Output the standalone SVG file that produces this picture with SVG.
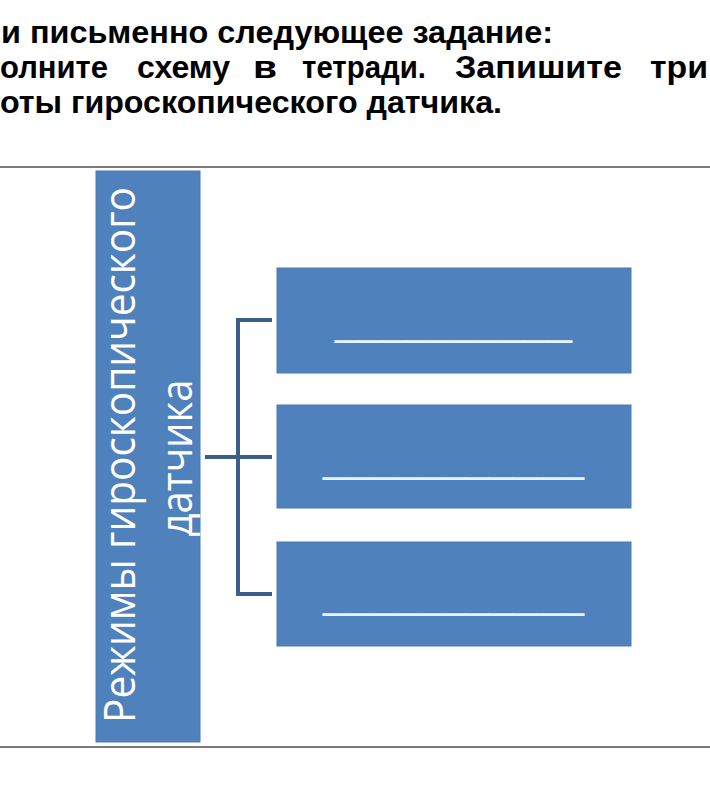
<svg xmlns="http://www.w3.org/2000/svg" width="710" height="801" viewBox="0 0 710 801">
<style>
.hdr{font-family:"Liberation Sans",Arial,sans-serif;font-weight:bold;font-size:32px;fill:#000}
.box{fill:#4F81BD;stroke:#4A7AB3;stroke-width:1}
.vt{font-family:"Open Sans","Noto Sans",sans-serif;font-size:44px;fill:#fff}
.blank{font-family:"Liberation Sans",Arial,sans-serif;font-size:44px;fill:#E6F3FA}
.con{stroke:#3B5F8A;stroke-width:4;fill:none}
.rule{stroke:#7a7a7a;stroke-width:2}
</style>
<rect width="710" height="801" fill="#fff"/>
<g id="header">
<text class="hdr" x="1" y="43" textLength="552" lengthAdjust="spacingAndGlyphs">и письменно следующее задание:</text>
<text class="hdr" y="78"><tspan x="0" textLength="108" lengthAdjust="spacingAndGlyphs">олните</tspan><tspan x="137" textLength="93" lengthAdjust="spacingAndGlyphs">схему</tspan><tspan x="253" textLength="24" lengthAdjust="spacingAndGlyphs">в</tspan><tspan x="302" textLength="124" lengthAdjust="spacingAndGlyphs">тетради.</tspan><tspan x="455" textLength="167" lengthAdjust="spacingAndGlyphs">Запишите</tspan><tspan x="650" textLength="58" lengthAdjust="spacingAndGlyphs">три</tspan></text>
<text class="hdr" x="0" y="113" textLength="502" lengthAdjust="spacingAndGlyphs">оты гироскопического датчика.</text>
</g>
<line class="rule" x1="0" y1="167" x2="710" y2="167"/>
<line class="rule" x1="0" y1="747" x2="710" y2="747"/>
<g id="connectors">
<polyline class="con" points="272,320 238,320 238,594 272,594"/>
<line class="con" x1="205" y1="457" x2="272" y2="457"/>
</g>
<g id="main">
<rect class="box" x="96" y="171" width="104" height="571"/>
<text class="vt" transform="translate(135,455) rotate(-90)" text-anchor="middle" x="0" y="0" textLength="536" lengthAdjust="spacingAndGlyphs">Режимы гироскопического</text>
<text class="vt" transform="translate(192,458) rotate(-90)" text-anchor="middle" x="0" y="0" textLength="157" lengthAdjust="spacingAndGlyphs">датчика</text>
</g>
<g id="mode1">
<rect class="box" x="277" y="268" width="354" height="105"/>
<text class="blank" x="335" y="333.5" textLength="237" lengthAdjust="spacingAndGlyphs">__________</text>
</g>
<g id="mode2">
<rect class="box" x="277" y="405" width="354" height="103"/>
<text class="blank" x="323" y="470.5" textLength="261" lengthAdjust="spacingAndGlyphs">___________</text>
</g>
<g id="mode3">
<rect class="box" x="277" y="542" width="354" height="104"/>
<text class="blank" x="323" y="606.5" textLength="261" lengthAdjust="spacingAndGlyphs">___________</text>
</g>
</svg>
